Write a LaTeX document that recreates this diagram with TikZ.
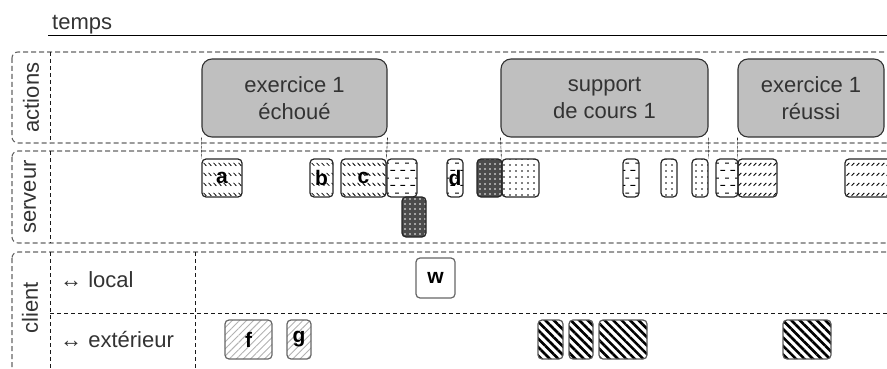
\documentclass[tikz,border=0pt]{standalone}
\usepackage{fontspec}
\setmainfont{Liberation Sans}
\usetikzlibrary{patterns.meta}

% Motifs des requêtes
\pgfdeclarepattern{name=ticksnw, type=uncolored,
  bottom left={\pgfpoint{0pt}{0pt}}, top right={\pgfpoint{4.5pt}{10pt}},
  tile size={\pgfpoint{4.5pt}{10pt}},
  code={\pgfsetlinewidth{0.9pt}
    \pgfpathmoveto{\pgfpoint{0.6pt}{6.5pt}}\pgfpathlineto{\pgfpoint{3.6pt}{3.5pt}}
    \pgfusepath{stroke}}}
\pgfdeclarepattern{name=ticksne, type=uncolored,
  bottom left={\pgfpoint{0pt}{0pt}}, top right={\pgfpoint{4.5pt}{10pt}},
  tile size={\pgfpoint{4.5pt}{10pt}},
  code={\pgfsetlinewidth{0.9pt}
    \pgfpathmoveto{\pgfpoint{0.6pt}{3.5pt}}\pgfpathlineto{\pgfpoint{3.6pt}{6.5pt}}
    \pgfusepath{stroke}}}
\pgfdeclarepattern{name=dashesh, type=uncolored,
  bottom left={\pgfpoint{0pt}{0pt}}, top right={\pgfpoint{10pt}{15pt}},
  tile size={\pgfpoint{10pt}{15pt}},
  code={\pgfsetlinewidth{1.1pt}
    \pgfpathmoveto{\pgfpoint{0.5pt}{3.75pt}}\pgfpathlineto{\pgfpoint{5.5pt}{3.75pt}}
    \pgfpathmoveto{\pgfpoint{5.5pt}{11.25pt}}\pgfpathlineto{\pgfpoint{9.5pt}{11.25pt}}
    \pgfusepath{stroke}}}

\begin{document}
\begin{tikzpicture}[x=1pt, y=-1pt,
  every node/.style={font=\fontsize{22}{27}\selectfont, text=black!80},
  lane/.style={draw=black!60, dash pattern=on 5pt off 3pt, line width=1.1pt, rounded corners=6pt},
  partition/.style={draw=black!90, dash pattern=on 4pt off 3pt, line width=0.9pt},
  lanelabel/.style={rotate=90, inner sep=0pt},
  rowlabel/.style={anchor=base west, inner sep=0pt},
  action/.style={draw=black!80, fill=black!25, line width=1.1pt, rounded corners=10pt,
    align=center, minimum height=78pt, inner sep=0pt},
  box/.style={draw=black!85, line width=1.2pt, rounded corners=4pt, inner sep=0pt,
    minimum height=38pt, font=\fontsize{21}{24}\selectfont\bfseries, text=black},
  hatchnw/.style={box, pattern=ticksnw, pattern color=black},
  hatchne/.style={box, pattern=ticksne, pattern color=black},
  dashbox/.style={box, pattern=dashesh, pattern color=black},
  dotbox/.style={box, pattern={Dots[distance=6pt, radius=0.8pt]}, pattern color=black},
  darkbox/.style={box, preaction={fill=black!70}, pattern={Dots[distance=5pt, radius=0.8pt]}, pattern color=white},
  lightbox/.style={box, draw=black!60, minimum height=39pt, pattern={Lines[angle=45, distance=5pt, line width=0.9pt]}, pattern color=black!30},
  stripebox/.style={box, draw=black!65, minimum height=39pt, pattern={Lines[angle=-45, distance=6pt, line width=2.6pt]}, pattern color=black},
  drop/.style={draw=black!85, line width=0.6pt, dash pattern=on 3pt off 1pt}]
  \useasboundingbox (0,0) rectangle (887,369);
  \clip (0,0) rectangle (887,369);

  % Axe du temps
  \node[anchor=base west, inner sep=0pt] (temps) at (52,30) {temps};
  \draw[line width=1pt] (48,36) -- (900,36);

  % Couloirs
  \draw[lane] (12,52) rectangle (920,143);
  \draw[partition] (50,52) -- (50,143);
  \node[lanelabel] (lactions) at (31,97.5) {actions};

  \draw[lane] (12,151) rectangle (920,243);
  \draw[partition] (50,151) -- (50,243);
  \node[lanelabel] (lserveur) at (30,197) {serveur};

  \draw[lane] (12,252) rectangle (920,380);
  \draw[partition] (50,252) -- (50,380);
  \draw[partition] (195,252) -- (195,380);
  \draw[partition] (50,313) -- (920,313);
  \node[lanelabel] (lclient) at (30,308) {client};
  \node[rowlabel] (llocal) at (60,287) {↔ local};
  \node[rowlabel] (lext) at (60,347) {↔ extérieur};

  % Actions
  \node[action, minimum width=185pt] (ex1) at (294.5,98) {exercice 1\\échoué};
  \node[action, minimum width=207pt] (sup) at (604.5,98) {support\\de cours 1};
  \node[action, minimum width=146pt] (ex2) at (811,98) {exercice 1\\réussi};

  % Requêtes serveur
  \node[hatchnw, minimum width=40pt] (a) at (222,178) {a};
  \node[hatchnw, minimum width=23pt] (b) at (321.5,178) {b};
  \node[hatchnw, minimum width=45pt] (c) at (363.5,178) {c};
  \node[dashbox, minimum width=30pt] (s1) at (402,178) {};
  \node[darkbox, minimum width=24pt, minimum height=40pt] (s2) at (414,217) {};
  \node[dashbox, minimum width=16pt] (d) at (455,178) {d};
  \node[darkbox, minimum width=25pt] (s3) at (489.5,178) {};
  \node[dotbox, minimum width=37pt] (s4) at (520.5,178) {};
  \node[dashbox, minimum width=16pt] (s5) at (631,178) {};
  \node[dotbox, minimum width=16pt] (s6) at (669,178) {};
  \node[dotbox, minimum width=16pt] (s7) at (700,178) {};
  \node[dashbox, minimum width=22pt] (s8) at (727,178) {};
  \node[hatchne, minimum width=39pt] (s9) at (757.5,178) {};
  \node[hatchne, minimum width=55pt] (s10) at (872.5,178) {};

  % Requêtes client
  \node[box, draw=black!60, fill=white, minimum width=39pt, minimum height=40pt] (w) at (435.5,278) {w};
  \node[lightbox, minimum width=47pt] (f) at (248.5,339.5) {f};
  \node[lightbox, minimum width=24pt] (g) at (299,339.5) {g};
  \node[stripebox, minimum width=25pt] (x1) at (550.5,339.5) {};
  \node[stripebox, minimum width=24pt] (x2) at (581,339.5) {};
  \node[stripebox, minimum width=48pt] (x3) at (623,339.5) {};
  \node[stripebox, minimum width=48pt] (x4) at (807,339.5) {};

  % Repères verticaux
  \draw[drop] (ex1.south west) -- (a.north west);
  \draw[drop] (ex1.south east) -- (s1.north west);
  \draw[drop] (sup.south west) -- (s4.north west);
  \draw[drop] (sup.south east) -- (s7.north east);
  \draw[drop] (ex2.south west) -- (s9.north west);
\end{tikzpicture}
\end{document}
